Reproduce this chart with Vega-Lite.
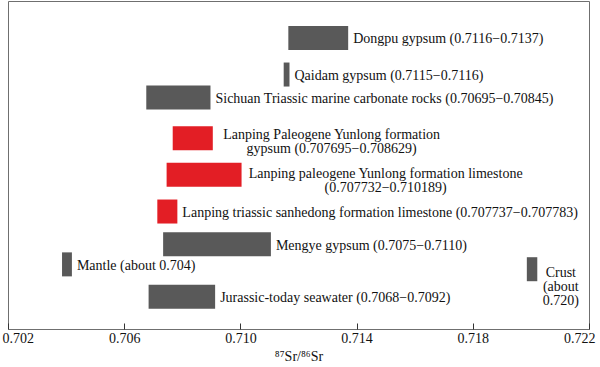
{
  "$schema": "https://vega.github.io/schema/vega-lite/v6.json",
  "width": 581,
  "height": 328,
  "autosize": {"type": "none"},
  "padding": {"left": 8, "top": 1, "right": 11, "bottom": 38},
  "background": "white",
  "config": {
    "view": {"stroke": "#6f6f6f", "strokeWidth": 1},
    "font": "Liberation Serif, Times New Roman, serif"
  },
  "data": {
    "values": [
      {"name": "Dongpu", "lo": 0.71165, "hi": 0.71371, "row": 1.006, "group": "other", "label": "Dongpu gypsum (0.7116−0.7137)"},
      {"name": "Qaidam", "lo": 0.71149, "hi": 0.71169, "row": 2.155, "group": "other", "label": "Qaidam gypsum (0.7115−0.7116)"},
      {"name": "Sichuan", "lo": 0.70676, "hi": 0.70897, "row": 2.875, "group": "other", "label": "Sichuan Triassic marine carbonate rocks (0.70695−0.70845)"},
      {"name": "Lanping gypsum", "lo": 0.70767, "hi": 0.70905, "row": 4.155, "group": "Lanping", "label": ["Lanping Paleogene Yunlong formation", "gypsum (0.707695−0.708629)"], "lx": 0.71314, "ly": 3.838},
      {"name": "Lanping limestone", "lo": 0.70746, "hi": 0.71004, "row": 5.31, "group": "Lanping", "label": ["Lanping paleogene Yunlong formation limestone", "(0.707732−0.710189)"], "lx": 0.715, "ly": 5.067},
      {"name": "Lanping triassic", "lo": 0.70714, "hi": 0.70783, "row": 6.463, "group": "Lanping", "label": "Lanping triassic sanhedong formation limestone (0.707737−0.707783)"},
      {"name": "Mengye", "lo": 0.70734, "hi": 0.71105, "row": 7.49, "group": "other", "label": "Mengye gypsum (0.7075−0.7110)"},
      {"name": "Mantle", "lo": 0.70386, "hi": 0.7042, "row": 8.125, "group": "other", "label": "Mantle (about 0.704)"},
      {"name": "Crust", "lo": 0.71986, "hi": 0.72022, "row": 8.277, "group": "other", "label": ["Crust", "(about", "0.720)"], "lx": 0.72103, "ly": 8.177},
      {"name": "Jurassic", "lo": 0.70684, "hi": 0.70913, "row": 9.14, "group": "other", "label": "Jurassic-today seawater (0.7068−0.7092)"}
    ]
  },
  "layer": [
    {
      "mark": {"type": "bar", "orient": "horizontal", "height": 24},
      "encoding": {
        "x": {
          "field": "lo", "type": "quantitative",
          "scale": {"domain": [0.702, 0.722], "nice": false, "zero": false},
          "axis": {
            "values": [0.702, 0.706, 0.71, 0.714, 0.718, 0.722],
            "format": ".3f",
            "domain": false,
            "grid": false,
            "tickSize": -6,
            "tickColor": "#333333",
            "tickWidth": 1,
            "labelPadding": 8,
            "labelFlush": true,
            "labelFlushOffset": 6,
            "labelFont": "Liberation Serif, Times New Roman, serif",
            "labelFontSize": 14,
            "labelColor": "#111111",
            "title": "⁸⁷Sr/⁸⁶Sr",
            "titleFont": "Liberation Serif, Times New Roman, serif",
            "titleFontSize": 14,
            "titleFontWeight": "normal",
            "titleColor": "#111111",
            "titlePadding": 4
          }
        },
        "x2": {"field": "hi"},
        "y": {
          "field": "row", "type": "quantitative",
          "scale": {"domain": [0, 10], "reverse": true, "nice": false, "zero": false},
          "axis": null
        },
        "color": {
          "field": "group", "type": "nominal",
          "scale": {"domain": ["Lanping", "other"], "range": ["#e31e25", "#595959"]},
          "legend": null
        }
      }
    },
    {
      "transform": [{"filter": "datum.lx == null"}],
      "mark": {"type": "text", "align": "left", "baseline": "middle", "dx": 5, "dy": 1.5, "font": "Liberation Serif, Times New Roman, serif", "fontSize": 14, "color": "#111111"},
      "encoding": {
        "x": {"field": "hi", "type": "quantitative"},
        "y": {"field": "row", "type": "quantitative"},
        "text": {"field": "label"}
      }
    },
    {
      "transform": [{"filter": "datum.lx != null"}],
      "mark": {"type": "text", "align": "center", "baseline": "top", "lineHeight": 14, "font": "Liberation Serif, Times New Roman, serif", "fontSize": 14, "color": "#111111"},
      "encoding": {
        "x": {"field": "lx", "type": "quantitative"},
        "y": {"field": "ly", "type": "quantitative"},
        "text": {"field": "label"}
      }
    }
  ]
}
